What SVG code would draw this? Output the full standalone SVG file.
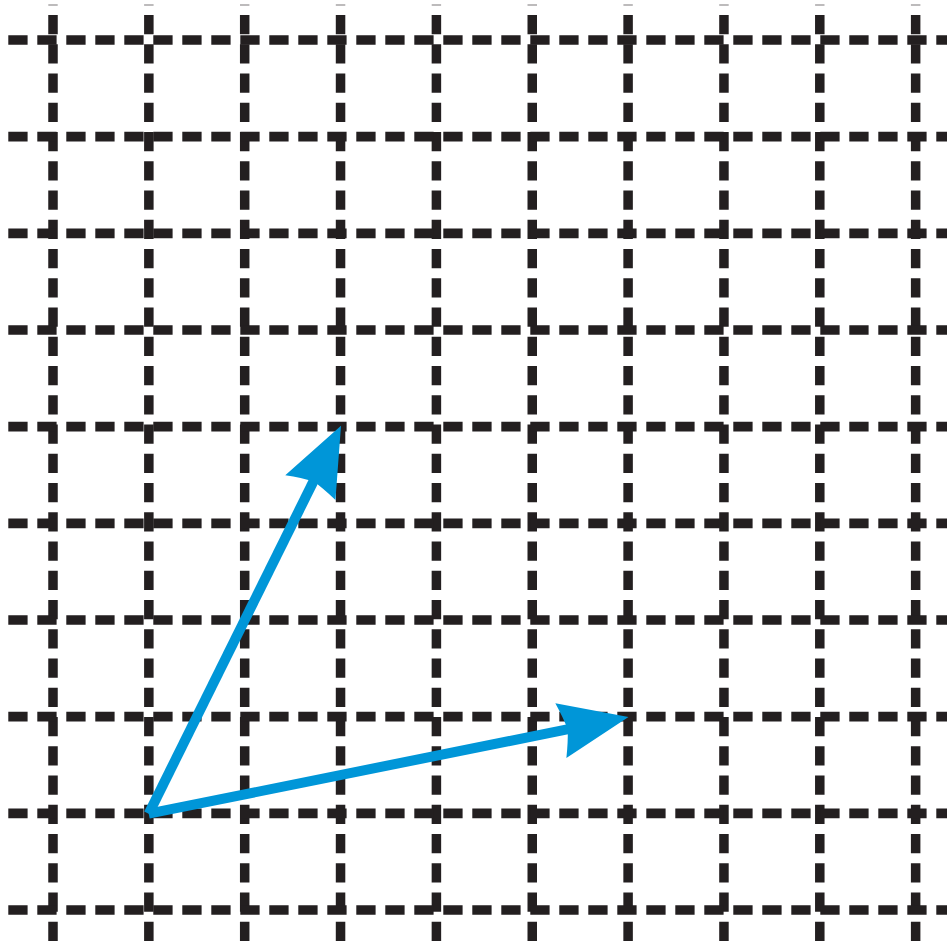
<svg xmlns="http://www.w3.org/2000/svg" width="947" height="943" viewBox="0 0 947 943">
  <style>
    .v { stroke: #231f20; stroke-width: 9.5; stroke-dasharray: 19.3 9.95; fill: none; }
    .h { stroke: #231f20; stroke-width: 9.6; stroke-dasharray: 19.3 9.7; fill: none; }
    .tick { stroke: #a7a5a6; stroke-width: 1.5; fill: none; }
    .vec { stroke: #0096d8; stroke-width: 10; fill: none; stroke-linecap: butt; }
  </style>
  <defs>
    <marker id="head" viewBox="-70 -30 72 60" refX="-60" refY="0" markerWidth="72" markerHeight="60" markerUnits="userSpaceOnUse" orient="auto" overflow="visible">
      <path d="M0,0 L-69,-28 Q-64,-12 -62,0 Q-64,12 -69,28 Z" fill="#0096d8"/>
    </marker>
  </defs>
  <rect width="947" height="943" fill="#ffffff"/>
  <g id="ticks">
    <line class="tick" x1="48.3" y1="5" x2="57.7" y2="5"/>
    <line class="tick" x1="144.1" y1="5" x2="153.6" y2="5"/>
    <line class="tick" x1="240" y1="5" x2="249.4" y2="5"/>
    <line class="tick" x1="335.8" y1="5" x2="345.3" y2="5"/>
    <line class="tick" x1="431.7" y1="5" x2="441.1" y2="5"/>
    <line class="tick" x1="527.5" y1="5" x2="537" y2="5"/>
    <line class="tick" x1="623.4" y1="5" x2="632.8" y2="5"/>
    <line class="tick" x1="719.2" y1="5" x2="728.7" y2="5"/>
    <line class="tick" x1="815.1" y1="5" x2="824.5" y2="5"/>
    <line class="tick" x1="910.9" y1="5" x2="920.4" y2="5"/>
  </g>
  <g id="grid-vertical">
    <line class="v" x1="53" y1="15" x2="53" y2="943"/>
    <line class="v" x1="148.85" y1="15" x2="148.85" y2="943"/>
    <line class="v" x1="244.7" y1="15" x2="244.7" y2="943"/>
    <line class="v" x1="340.55" y1="15" x2="340.55" y2="943"/>
    <line class="v" x1="436.4" y1="15" x2="436.4" y2="943"/>
    <line class="v" x1="532.25" y1="15" x2="532.25" y2="943"/>
    <line class="v" x1="628.1" y1="15" x2="628.1" y2="943"/>
    <line class="v" x1="723.95" y1="15" x2="723.95" y2="943"/>
    <line class="v" x1="819.8" y1="15" x2="819.8" y2="943"/>
    <line class="v" x1="915.65" y1="15" x2="915.65" y2="943"/>
  </g>
  <g id="grid-horizontal">
    <line class="h" x1="8.3" y1="40" x2="947" y2="40"/>
    <line class="h" x1="8.3" y1="136.67" x2="947" y2="136.67"/>
    <line class="h" x1="8.3" y1="233.33" x2="947" y2="233.33"/>
    <line class="h" x1="8.3" y1="330" x2="947" y2="330"/>
    <line class="h" x1="8.3" y1="426.67" x2="947" y2="426.67"/>
    <line class="h" x1="8.3" y1="523.33" x2="947" y2="523.33"/>
    <line class="h" x1="8.3" y1="620" x2="947" y2="620"/>
    <line class="h" x1="8.3" y1="716.67" x2="947" y2="716.67"/>
    <line class="h" x1="8.3" y1="813.33" x2="947" y2="813.33"/>
    <line class="h" x1="8.3" y1="910" x2="947" y2="910"/>
  </g>
  <g id="connectors">
    <line class="vec" x1="148.7" y1="813.7" x2="314.35" y2="479.56" marker-end="url(#head)"/>
    <line class="vec" x1="148.7" y1="813.7" x2="569.68" y2="728.86" marker-end="url(#head)"/>
  </g>
</svg>
